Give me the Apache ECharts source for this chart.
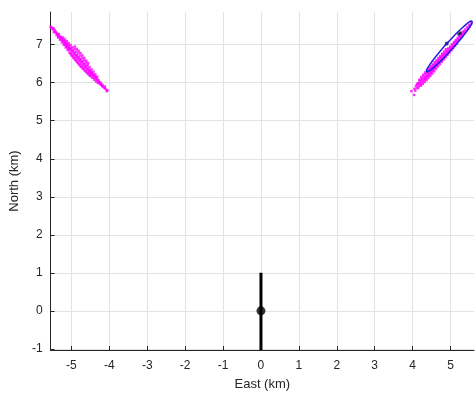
<!DOCTYPE html>
<html>
<head>
<meta charset="utf-8">
<title>East / North</title>
<script src="https://cdn.jsdelivr.net/npm/echarts@6/dist/echarts.min.js"></script>
<style>
  html, body { margin: 0; padding: 0; background: #fff; }
</style>
</head>
<body>
<div id="main" style="width:475px;height:396px;"></div>
<script>
// tick labels
var xTicks = [-5, -4, -3, -2, -1, 0, 1, 2, 3, 4, 5];
var yTicks = [-1, 0, 1, 2, 3, 4, 5, 6, 7];

// magenta cloud, left (west) branch
var westPts = [
  [-5.55,7.47],[-5.53,7.45],
  [-5.51,7.44],[-5.49,7.40],[-5.47,7.43],
  [-5.44,7.38],[-5.46,7.33],[-5.42,7.34],
  [-5.41,7.32],[-5.38,7.29],[-5.39,7.25],
  [-5.36,7.27],[-5.34,7.22],[-5.33,7.28],[-5.35,7.19],
  [-5.31,7.21],[-5.29,7.16],[-5.27,7.20],[-5.30,7.13],
  [-5.26,7.17],[-5.24,7.10],[-5.23,7.14],[-5.25,7.06],[-5.22,7.19],
  [-5.21,7.11],[-5.19,7.04],[-5.18,7.09],[-5.20,7.00],[-5.17,7.14],
  [-5.16,7.06],[-5.14,6.98],[-5.13,7.03],[-5.15,6.93],[-5.12,7.09],[-5.17,7.00],
  [-5.11,7.01],[-5.09,6.92],[-5.08,6.97],[-5.10,6.86],[-5.07,7.04],[-5.12,6.94],
  [-5.06,6.95],[-5.04,6.86],[-5.03,6.91],[-5.05,6.79],[-5.02,6.99],[-5.07,6.88],
  [-5.01,6.90],[-4.99,6.80],[-4.98,6.85],[-5.00,6.72],[-4.97,6.93],[-5.02,6.76],
  [-4.96,6.84],[-4.94,6.74],[-4.93,6.79],[-4.95,6.66],[-4.92,6.88],[-4.97,6.70],[-4.91,6.95],
  [-4.91,6.78],[-4.89,6.68],[-4.88,6.73],[-4.90,6.60],[-4.87,6.82],[-4.92,6.64],[-4.86,6.89],
  [-4.86,6.72],[-4.84,6.62],[-4.83,6.68],[-4.85,6.54],[-4.82,6.77],[-4.87,6.58],[-4.81,6.84],
  [-4.81,6.66],[-4.79,6.57],[-4.78,6.62],[-4.80,6.48],[-4.77,6.71],[-4.82,6.52],[-4.76,6.78],
  [-4.76,6.60],[-4.74,6.51],[-4.73,6.56],[-4.75,6.42],[-4.72,6.65],[-4.77,6.46],[-4.71,6.72],
  [-4.71,6.55],[-4.69,6.45],[-4.68,6.50],[-4.70,6.37],[-4.67,6.59],[-4.72,6.41],[-4.66,6.65],
  [-4.66,6.49],[-4.64,6.40],[-4.63,6.45],[-4.65,6.32],[-4.62,6.53],[-4.67,6.36],[-4.61,6.58],
  [-4.61,6.43],[-4.59,6.34],[-4.58,6.39],[-4.60,6.27],[-4.57,6.47],[-4.62,6.30],[-4.56,6.52],
  [-4.56,6.37],[-4.54,6.29],[-4.53,6.33],[-4.55,6.22],[-4.52,6.41],[-4.57,6.25],
  [-4.51,6.31],[-4.49,6.23],[-4.48,6.28],[-4.50,6.17],[-4.47,6.35],[-4.52,6.20],
  [-4.46,6.25],[-4.44,6.18],[-4.43,6.22],[-4.45,6.13],[-4.42,6.29],
  [-4.41,6.19],[-4.39,6.13],[-4.38,6.17],[-4.40,6.08],[-4.37,6.22],
  [-4.36,6.13],[-4.34,6.08],[-4.33,6.11],[-4.35,6.03],[-4.32,6.16],
  [-4.31,6.07],[-4.29,6.02],[-4.28,6.06],[-4.30,5.99],
  [-4.26,6.01],[-4.24,5.97],[-4.23,6.00],[-4.22,5.95],
  [-4.21,5.95],[-4.19,5.91],[-4.18,5.94],
  [-4.16,5.89],[-4.13,5.86],[-4.12,5.90],
  [-4.10,5.84],[-4.07,5.78],[-4.05,5.80]
];

// magenta cloud, right (east) branch
var eastPts = [
  [3.97,5.78],[4.04,5.68],[4.05,5.84],[4.07,5.79],
  [4.09,5.92],[4.11,5.86],[4.12,5.96],
  [4.14,5.99],[4.16,5.91],[4.15,5.86],[4.17,5.97],
  [4.19,6.05],[4.21,5.96],[4.20,6.01],[4.22,5.92],[4.18,6.08],
  [4.24,6.11],[4.26,6.02],[4.25,6.07],[4.27,5.97],[4.23,6.15],
  [4.29,6.17],[4.31,6.07],[4.30,6.12],[4.32,6.02],[4.28,6.21],[4.33,6.10],
  [4.34,6.23],[4.36,6.13],[4.35,6.18],[4.37,6.07],[4.33,6.27],[4.38,6.16],
  [4.39,6.28],[4.41,6.18],[4.40,6.24],[4.42,6.12],[4.38,6.33],[4.43,6.21],
  [4.44,6.34],[4.46,6.24],[4.45,6.29],[4.47,6.18],[4.43,6.38],[4.48,6.27],
  [4.49,6.39],[4.51,6.30],[4.50,6.35],[4.52,6.24],[4.48,6.43],[4.53,6.33],
  [4.54,6.45],[4.56,6.36],[4.55,6.41],[4.57,6.30],[4.53,6.48],[4.58,6.39],
  [4.59,6.50],[4.61,6.42],[4.60,6.46],[4.62,6.37],[4.58,6.54],
  [4.64,6.56],[4.66,6.47],[4.65,6.52],[4.67,6.43],[4.63,6.59],
  [4.69,6.61],[4.71,6.53],[4.70,6.58],[4.72,6.49],[4.68,6.65],
  [4.74,6.67],[4.76,6.59],[4.75,6.64],[4.77,6.55],[4.73,6.70],
  [4.79,6.73],[4.81,6.65],[4.80,6.69],[4.82,6.61],[4.78,6.76],
  [4.84,6.78],[4.86,6.71],[4.85,6.75],[4.87,6.67],[4.83,6.82],
  [4.89,6.84],[4.91,6.77],[4.90,6.81],[4.92,6.73],[4.88,6.88],
  [4.94,6.90],[4.96,6.83],[4.95,6.87],[4.97,6.79],
  [4.99,6.95],[5.01,6.88],[5.00,6.92],[5.02,6.85],
  [5.04,7.01],[5.06,6.94],[5.05,6.98],[5.07,6.91],
  [5.09,7.07],[5.11,7.00],[5.10,7.04],[5.12,6.97],
  [5.14,7.12],[5.16,7.06],[5.15,7.10],[5.17,7.03],
  [5.19,7.18],[5.21,7.12],[5.20,7.15],
  [5.24,7.23],[5.26,7.17],[5.25,7.21],
  [5.29,7.29],[5.31,7.23],[5.30,7.27],
  [5.34,7.35],[5.36,7.30],[5.35,7.33],
  [5.39,7.40],[5.41,7.36],
  [5.44,7.46],[5.46,7.41],
  [5.49,7.51],[5.51,7.48],
  [5.54,7.56]
];

// blue error ellipse outline
var ellipsePts = [
  [5.57,7.62],[5.530,7.615],[5.453,7.565],[5.342,7.473],[5.206,7.346],[5.054,7.192],
  [4.896,7.022],[4.743,6.848],[4.606,6.681],[4.493,6.532],[4.413,6.413],[4.371,6.330],
  [4.37,6.29],[4.410,6.295],[4.487,6.346],[4.598,6.437],[4.734,6.565],[4.886,6.718],
  [5.044,6.888],[5.197,7.062],[5.334,7.229],[5.447,7.378],[5.527,7.496],[5.569,7.580],
  [5.57,7.62]
];

// dark marks inside the ellipse
var darkPts = [[4.89,7.02],[4.91,7.04],[5.22,7.28],[5.26,7.31]];

// vertical black bar and origin marker
var barPts = [[0,-1.03],[0,1]];
var originPt = [[0,0]];

var myChart = echarts.init(document.getElementById('main'), null, { renderer: 'canvas' });

var axisColor = '#262626';
var fontFam = '"Liberation Sans", Arial, sans-serif';

var option = {
    animation: false,
    backgroundColor: '#fff',
    grid: { left: 47, right: 1, top: 12, bottom: 43, containLabel: false },
    xAxis: {
        type: 'value',
        min: -5.55,
        max: 5.62,
        name: 'East (km)',
        nameLocation: 'middle',
        nameGap: 28,
        nameTextStyle: { color: axisColor, fontSize: 13, fontFamily: fontFam },
        axisLine: { show: true, onZero: false, lineStyle: { color: axisColor, width: 1 } },
        axisTick: { show: true, inside: true, length: 4, customValues: xTicks, lineStyle: { color: axisColor } },
        axisLabel: { customValues: xTicks, color: axisColor, fontSize: 12, fontFamily: fontFam, margin: 10 },
        splitLine: { show: true, lineStyle: { color: '#e3e3e3', width: 1 } }
    },
    yAxis: {
        type: 'value',
        min: -1.03,
        max: 7.86,
        name: 'North (km)',
        nameLocation: 'middle',
        nameGap: 22,
        nameTextStyle: { color: axisColor, fontSize: 13, fontFamily: fontFam },
        axisLine: { show: true, onZero: false, lineStyle: { color: axisColor, width: 1 } },
        axisTick: { show: true, inside: true, length: 4, customValues: yTicks, lineStyle: { color: axisColor } },
        axisLabel: { customValues: yTicks, color: axisColor, fontSize: 12, fontFamily: fontFam, margin: 8 },
        splitLine: { show: true, lineStyle: { color: '#e3e3e3', width: 1 } }
    },
    series: [
        {
            type: 'scatter',
            data: westPts,
            symbol: 'rect',
            symbolSize: 2.5,
            itemStyle: { color: '#ff00ff' },
            silent: true
        },
        {
            type: 'scatter',
            data: eastPts,
            symbol: 'rect',
            symbolSize: 2.5,
            itemStyle: { color: '#ff00ff' },
            silent: true
        },
        {
            type: 'line',
            data: ellipsePts,
            smooth: true,
            showSymbol: false,
            lineStyle: { color: '#1f1fe0', width: 1.5 },
            silent: true
        },
        {
            type: 'scatter',
            data: darkPts,
            symbol: 'rect',
            symbolSize: 3,
            itemStyle: { color: '#10103a' },
            silent: true
        },
        {
            type: 'line',
            data: barPts,
            showSymbol: false,
            lineStyle: { color: '#000', width: 3 },
            silent: true
        },
        {
            type: 'scatter',
            data: originPt,
            symbol: 'circle',
            symbolSize: 9,
            itemStyle: { color: '#000' },
            silent: true
        }
    ]
};

myChart.setOption(option);
</script>
</body>
</html>
